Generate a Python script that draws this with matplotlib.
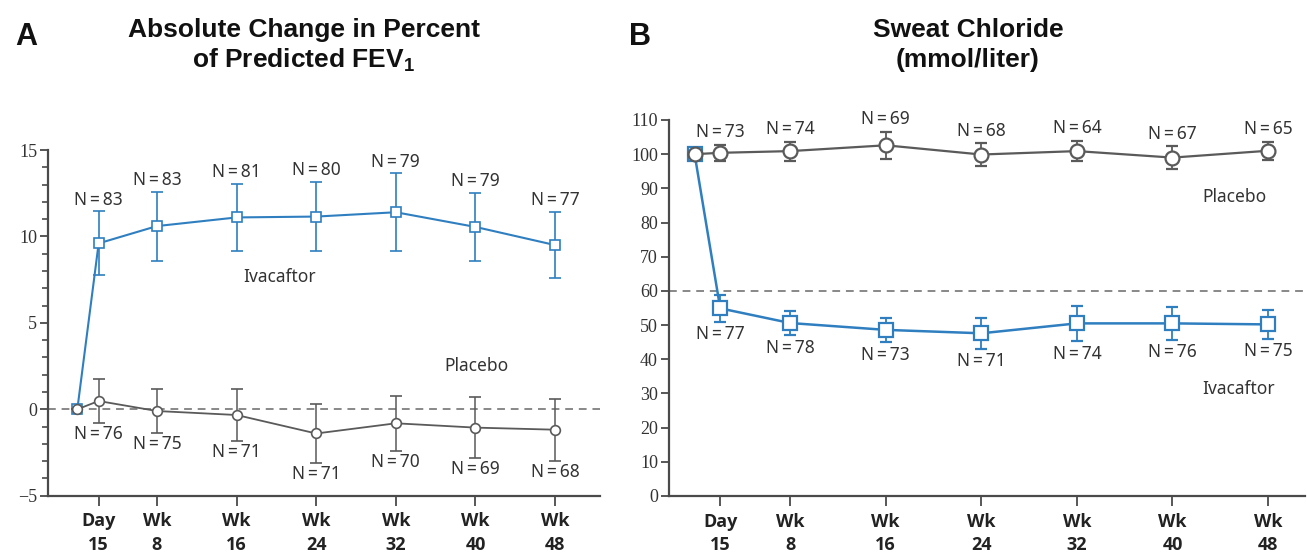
import matplotlib
matplotlib.use("Agg")
import matplotlib.pyplot as plt

plt.rcParams['mathtext.default'] = 'regular'

# visit times in weeks (baseline, day 15, wk 8 ... wk 48)
weeks = [0, 15 / 7, 8, 16, 24, 32, 40, 48]
tick_weeks = weeks[1:]
tick_labels = ["Day\n15", "Wk\n8", "Wk\n16", "Wk\n24", "Wk\n32", "Wk\n40", "Wk\n48"]

# Panel A: absolute change in percent of predicted FEV1
fev_iva = [0, 9.6, 10.6, 11.1, 11.15, 11.4, 10.55, 9.5]
fev_iva_err = [0, 1.85, 2.0, 1.95, 2.0, 2.25, 1.95, 1.9]
fev_iva_n = ["N=83", "N=83", "N=81", "N=80", "N=79", "N=79", "N=77"]
fev_pla = [0, 0.48, -0.1, -0.33, -1.4, -0.81, -1.06, -1.18]
fev_pla_err = [0, 1.25, 1.27, 1.5, 1.69, 1.6, 1.77, 1.8]
fev_pla_n = ["N=76", "N=75", "N=71", "N=71", "N=70", "N=69", "N=68"]

# Panel B: sweat chloride (mmol/liter)
sc_pla = [100, 100.4, 100.9, 102.6, 99.9, 100.9, 99.0, 101.0]
sc_pla_err = [0, 2.3, 2.8, 4.0, 3.3, 3.0, 3.4, 2.7]
sc_pla_n = ["N=73", "N=74", "N=69", "N=68", "N=64", "N=67", "N=65"]
sc_iva = [100, 54.9, 50.6, 48.6, 47.6, 50.5, 50.5, 50.2]
sc_iva_err = [0, 3.9, 3.6, 3.6, 4.6, 5.2, 4.85, 4.2]
sc_iva_n = ["N=77", "N=78", "N=73", "N=71", "N=74", "N=76", "N=75"]

blue = "#2f7fc0"
gray = "#5a5a5a"
axis_col = "#4a4a4a"
txt_col = "#333333"
nfont = ["Noto Sans", "DejaVu Sans"]

fig = plt.figure(figsize=(13.07, 5.54), dpi=100)
axA = fig.add_axes([0.037, 0.1052, 0.422, 0.624])
axB = fig.add_axes([0.5119, 0.1047, 0.4866, 0.6787])


def style_axis(ax):
    for s in ["top", "right"]:
        ax.spines[s].set_visible(False)
    for s in ["left", "bottom"]:
        ax.spines[s].set_color(axis_col)
        ax.spines[s].set_linewidth(1.6)
    ax.set_xticks(tick_weeks)
    ax.set_xticklabels(tick_labels, fontfamily="Open Sans", fontweight="bold",
                       fontsize=13, color="#222222", linespacing=1.4)
    ax.tick_params(axis="x", length=7, width=1.3, color=axis_col, pad=5)
    ax.tick_params(axis="y", which="major", length=6, width=1.3, color=axis_col,
                   labelsize=13, labelcolor=txt_col, pad=2)
    for lab in ax.get_yticklabels():
        lab.set_fontfamily("Liberation Serif")


def nlabels(ax, ys, errs, labels, above, off=3):
    for x, y, e, t in zip(tick_weeks, ys[1:], errs[1:], labels):
        t = t.replace("=", "\u2009=\u2009")
        if above:
            ax.annotate(t, (x, y + e), xytext=(0, off), textcoords="offset points",
                        ha="center", va="bottom", fontsize=12.5, color=txt_col,
                        fontfamily=nfont)
        else:
            ax.annotate(t, (x, y - e), xytext=(0, -off), textcoords="offset points",
                        ha="center", va="top", fontsize=12.5, color=txt_col,
                        fontfamily=nfont)


# ---- Panel A ----
axA.axhline(0, color="#888888", lw=1.4, ls=(0, (4, 3)), zorder=1)
axA.errorbar(weeks, fev_iva, yerr=fev_iva_err, color=blue, lw=1.5, marker="s",
             ms=6.5, mfc="white", mec=blue, mew=1.2, ecolor=blue, elinewidth=1.2,
             capsize=4, capthick=1.2, zorder=3)
axA.errorbar(weeks, fev_pla, yerr=fev_pla_err, color=gray, lw=1.3, marker="o",
             ms=7, mfc="white", mec=gray, mew=1.2, ecolor=gray, elinewidth=1.1,
             capsize=4, capthick=1.1, zorder=4)
axA.set_xlim(-2.91, 52.5)
axA.set_ylim(-5, 15)
axA.set_yticks([-5, 0, 5, 10, 15])
axA.set_yticklabels(["\u22125", "0", "5", "10", "15"])
axA.set_yticks(range(-5, 16), minor=True)
style_axis(axA)
axA.tick_params(axis="y", which="minor", length=4.5, width=1.2, color=axis_col)
nlabels(axA, fev_iva, fev_iva_err, fev_iva_n, above=True, off=2)
nlabels(axA, fev_pla, fev_pla_err, fev_pla_n, above=False, off=1.5)
axA.text(20.3, 7.65, "Ivacaftor", ha="center", va="center", fontsize=12.5,
         color=txt_col, fontfamily=nfont)
axA.text(40.1, 2.5, "Placebo", ha="center", va="center", fontsize=12.5,
         color=txt_col, fontfamily=nfont)

# ---- Panel B ----
axB.axhline(60, color="#888888", lw=1.4, ls=(0, (4, 3)), zorder=1)
axB.errorbar(weeks, sc_iva, yerr=sc_iva_err, color=blue, lw=1.8, marker="s",
             ms=10, mfc="white", mec=blue, mew=1.6, ecolor=blue, elinewidth=1.3,
             capsize=4.5, capthick=1.3, zorder=3)
axB.errorbar(weeks, sc_pla, yerr=sc_pla_err, color=gray, lw=1.6, marker="o",
             ms=10, mfc="white", mec=gray, mew=1.6, ecolor=gray, elinewidth=1.3,
             capsize=4.5, capthick=1.3, zorder=4)
axB.set_xlim(-2.14, 51.1)
axB.set_ylim(0, 110)
axB.set_yticks(range(0, 111, 10))
style_axis(axB)
nlabels(axB, sc_pla, sc_pla_err, sc_pla_n, above=True, off=2.5)
nlabels(axB, sc_iva, sc_iva_err, sc_iva_n, above=False, off=2.5)
axB.text(45.2, 87.4, "Placebo", ha="center", va="center", fontsize=12.5,
         color=txt_col, fontfamily=nfont)
axB.text(45.5, 31.4, "Ivacaftor", ha="center", va="center", fontsize=12.5,
         color=txt_col, fontfamily=nfont)

# ---- titles ----
tfont = dict(fontfamily="Liberation Sans", fontweight="bold", fontsize=19,
             color="#111111", ha="center", va="center")
fig.text(26 / 1307, 1 - 37 / 554, "A", fontfamily="Liberation Sans",
         fontweight="bold", fontsize=22, color="#111111", ha="center", va="center")
fig.text(640 / 1307, 1 - 37 / 554, "B", fontfamily="Liberation Sans",
         fontweight="bold", fontsize=22, color="#111111", ha="center", va="center")
fig.text(304 / 1307, 1 - 30 / 554, "Absolute Change in Percent", **tfont)
fig.text(304 / 1307, 1 - 60 / 554, "of Predicted FEV$_1$", **tfont)
fig.text(968 / 1307, 1 - 30 / 554, "Sweat Chloride", **tfont)
fig.text(968 / 1307, 1 - 60 / 554, "(mmol/liter)", **tfont)

fig.savefig("out.png", dpi=100, facecolor="white")
